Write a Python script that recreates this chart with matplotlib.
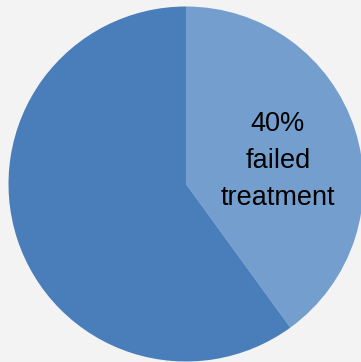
import matplotlib
matplotlib.use("Agg")
import matplotlib.pyplot as plt

labels = ["failed treatment", "other"]
values = [40, 60]
colors = ["#739ecd", "#4a7ebb"]
label_text = "40%\nfailed\ntreatment"

fig = plt.figure(figsize=(3.61, 3.62), dpi=100)
fig.patch.set_facecolor("#f3f3f3")
ax = fig.add_axes([8.5 / 361, 0.5 / 362, 355 / 361, 355 / 362])
ax.set_facecolor("none")
wedges, _ = ax.pie(values, colors=colors, startangle=90, counterclock=False,
                   radius=1, wedgeprops=dict(linewidth=0))
for w in wedges:
    w.set_clip_on(False)
ax.set_xlim(-1, 1)
ax.set_ylim(-1, 1)
ax.set_aspect("equal")
ax.axis("off")
ax.text(0.517, 0.127, label_text, ha="center", va="center", fontsize=19.5,
        family=["Liberation Sans", "DejaVu Sans"], color="black", linespacing=1.55)
fig.savefig("out.png", dpi=100, facecolor=fig.get_facecolor())
